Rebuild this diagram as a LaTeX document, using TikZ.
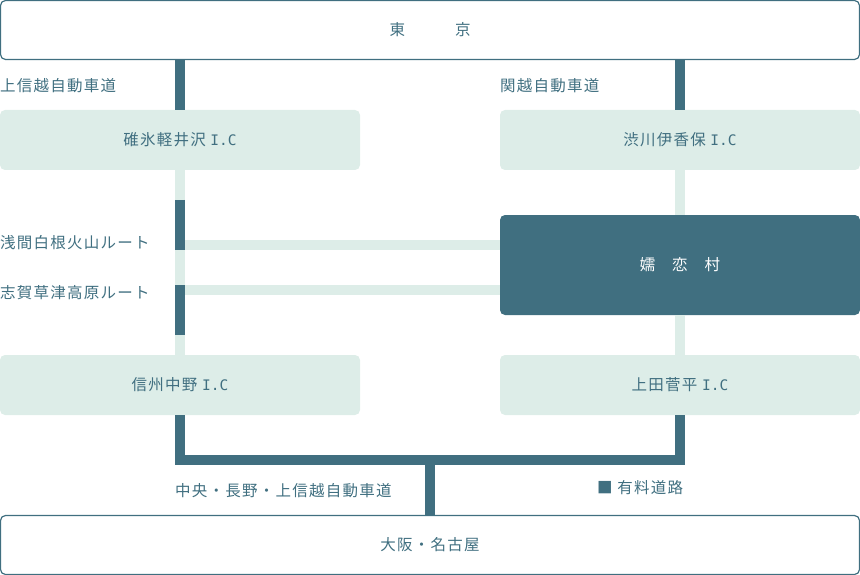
\documentclass[tikz,border=0pt]{standalone}
\usepackage{fontspec}
\setmainfont{Noto Sans CJK JP}[LetterSpace=8]
\newfontfamily\icfont{DejaVu Sans Mono}
\newcommand{\ic}{{\icfont\fontsize{14.5}{19}\selectfont I.C}}
\definecolor{roadteal}{RGB}{64,111,128}
\definecolor{icmint}{RGB}{221,237,232}
\begin{document}
\begin{tikzpicture}[x=1pt,y=-1pt,
  font=\fontsize{15.5}{19}\selectfont,
  cityblock/.style={draw=roadteal,line width=1.2pt,rounded corners=5pt,minimum width=859pt,minimum height=59pt,inner sep=0pt,text=roadteal},
  icblock/.style={fill=icmint,rounded corners=5pt,minimum width=360pt,minimum height=60pt,inner sep=0pt,text=roadteal},
  villageblock/.style={fill=roadteal,rounded corners=5pt,minimum width=360pt,minimum height=100pt,inner sep=0pt,text=white},
  roadlabel/.style={anchor=west,inner sep=0pt,text=roadteal},
  tollroad/.style={draw=roadteal,line width=10pt,line join=miter},
  freeroad/.style={draw=icmint,line width=10pt}]
\useasboundingbox (0,0) rectangle (860,575);
% places
\node[cityblock] (tokyo) at (430,30) {東\hspace{50pt}京};
\node[icblock] (usui) at (180,140) {碓氷軽井沢 \ic};
\node[icblock] (shibukawa) at (680,140) {渋川伊香保 \ic};
\node[villageblock] (tsumagoi) at (680,265) {嬬\hspace{17pt}恋\hspace{17pt}村};
\node[icblock] (nakano) at (180,385) {信州中野 \ic};
\node[icblock] (ueda) at (680,385) {上田菅平 \ic};
\node[cityblock] (osaka) at (430,545) {大阪・名古屋};
% road names
\node[roadlabel] (joshinetsu) at (0,86) {上信越自動車道};
\node[roadlabel] (kanetsu) at (500,86) {関越自動車道};
\node[roadlabel] (asamalabel) at (0,243) {浅間白根火山ルート};
\node[roadlabel] (shigalabel) at (0,293) {志賀草津高原ルート};
\node[roadlabel] (chuo) at (175,491) {中央・長野・上信越自動車道};
\node[roadlabel] (legend) at (597,488) {■ 有料道路};
\coordinate (asama) at (180,245);
\coordinate (shiga) at (180,290);
\coordinate (junction) at (430,460);
% ordinary roads
\draw[freeroad] (usui.south) -- (nakano.north);
\draw[freeroad] (shibukawa.south) -- (tsumagoi.north);
\draw[freeroad] (tsumagoi.south) -- (ueda.north);
\draw[freeroad] (asama) -- (asama -| tsumagoi.west);
\draw[freeroad] (shiga) -- (shiga -| tsumagoi.west);
% toll roads
\draw[tollroad] (usui.north |- tokyo.south) -- (usui.north);
\draw[tollroad] (shibukawa.north |- tokyo.south) -- (shibukawa.north);
\draw[tollroad] (asama) ++(0,-45) -- ++(0,50);
\draw[tollroad] (shiga) ++(0,-5) -- ++(0,50);
\draw[tollroad] (nakano.south) |- (junction) -| (ueda.south);
\draw[tollroad] (junction) -- (osaka.north);
\end{tikzpicture}
\end{document}
